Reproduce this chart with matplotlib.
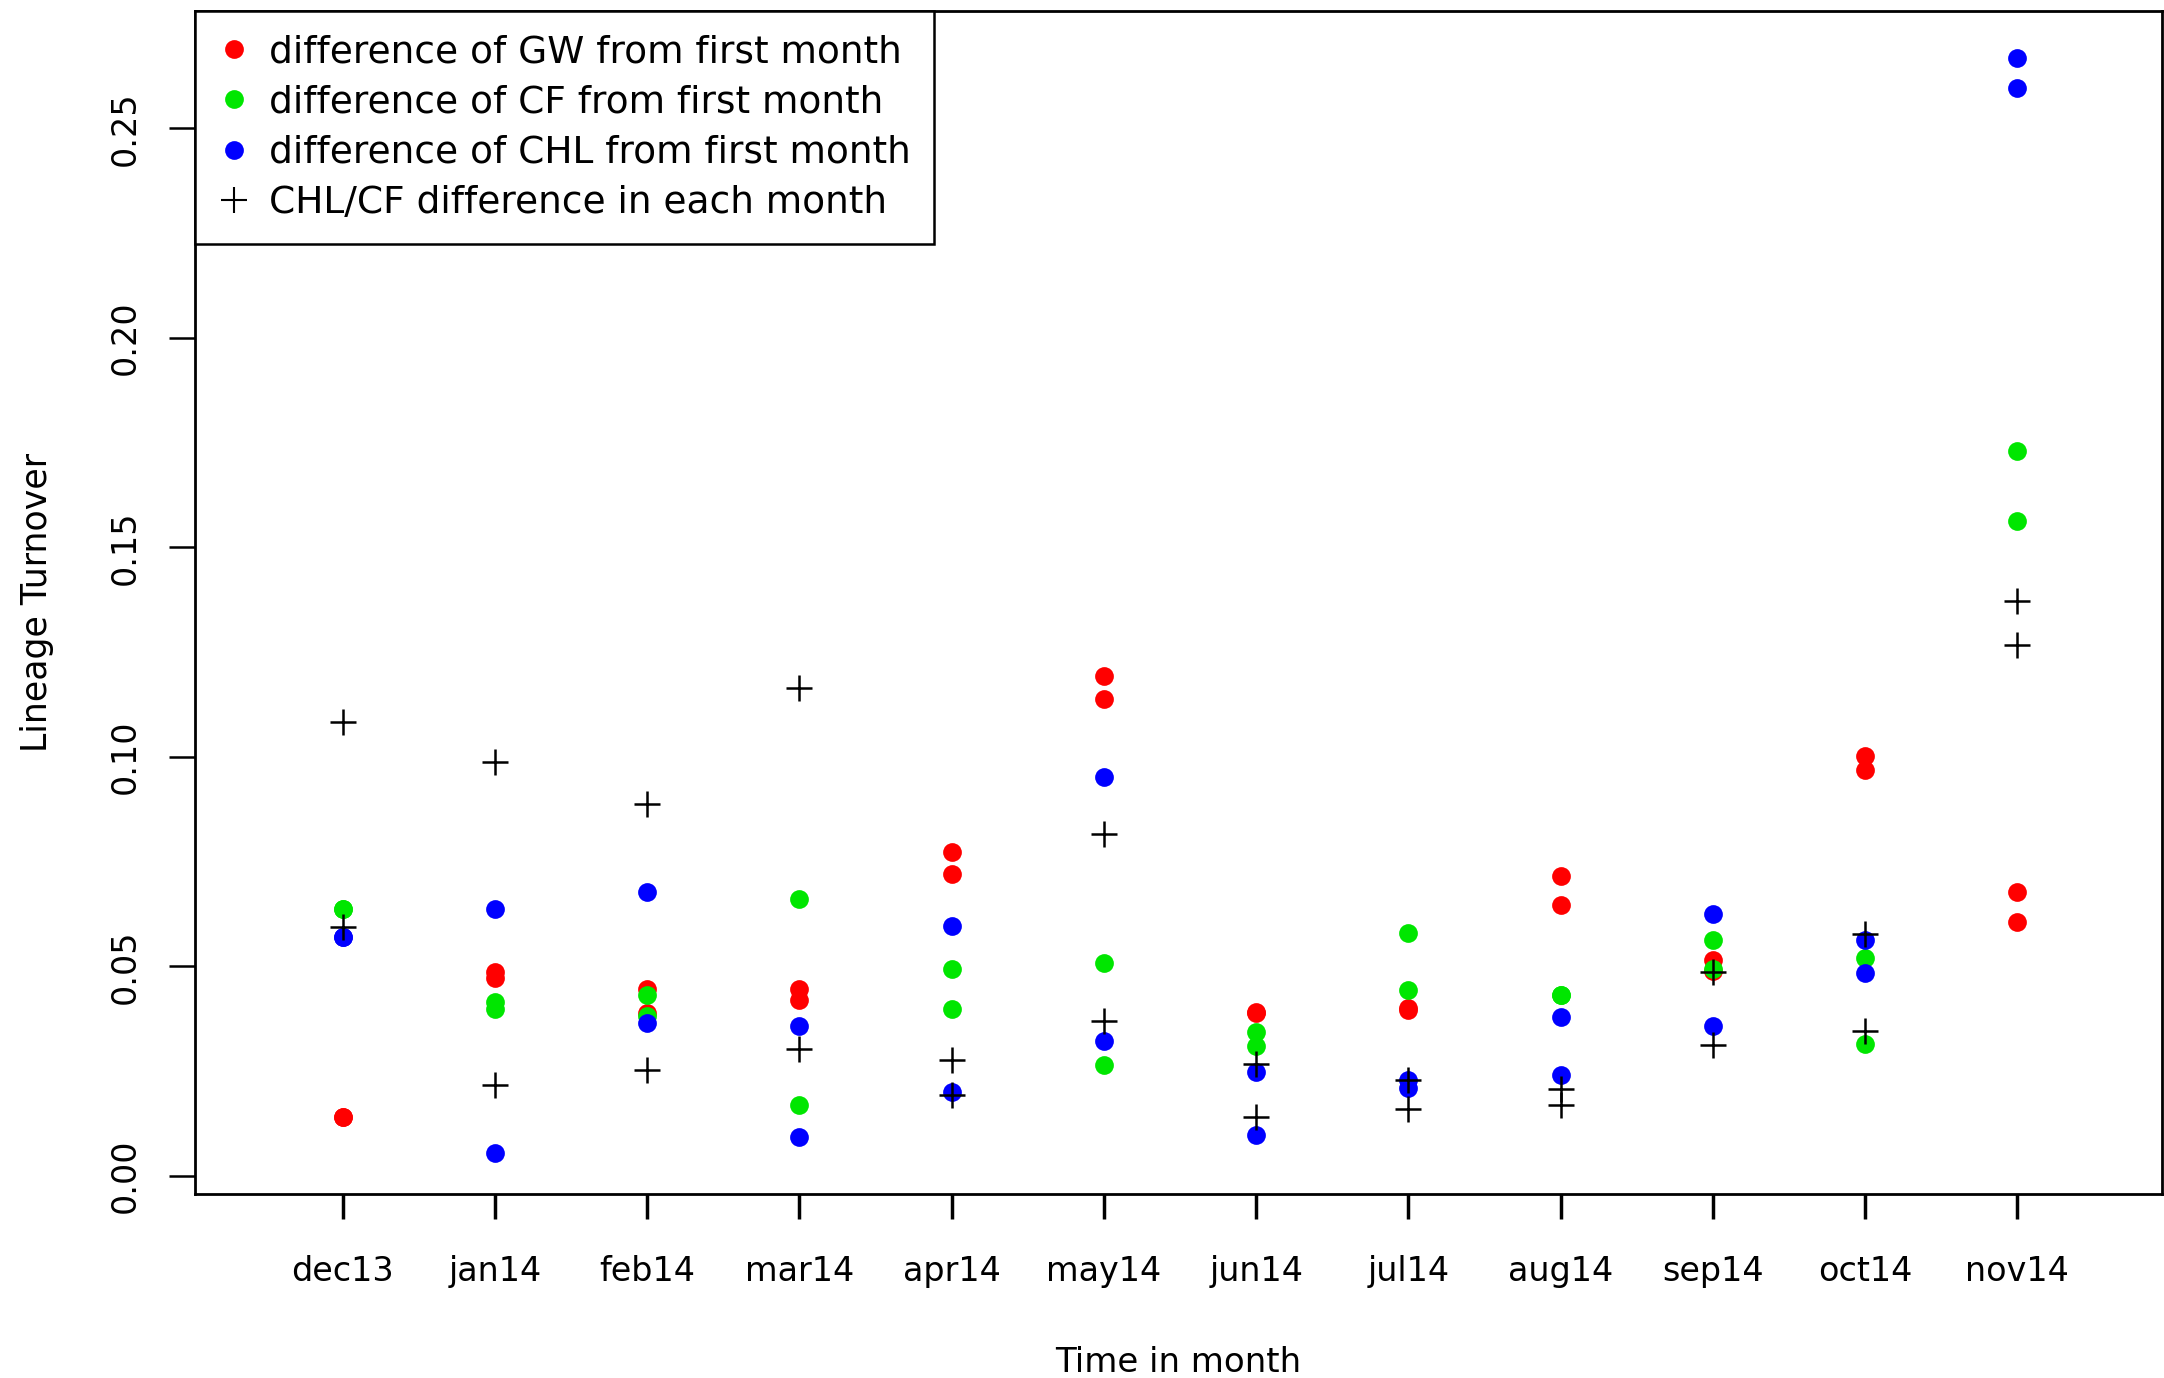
import matplotlib
matplotlib.use("Agg")
import matplotlib.pyplot as plt
from matplotlib.lines import Line2D

plt.rcParams['font.family'] = ['DejaVu Sans']

months = ["dec13", "jan14", "feb14", "mar14", "apr14", "may14",
          "jun14", "jul14", "aug14", "sep14", "oct14", "nov14"]

gw = [(0.0141, 0.0141), (0.0488, 0.0472), (0.0447, 0.0390), (0.0447, 0.0420),
      (0.0773, 0.0721), (0.1192, 0.1139), (0.0392, 0.0388), (0.0400, 0.0395),
      (0.0717, 0.0646), (0.0516, 0.0490), (0.1002, 0.0968), (0.0678, 0.0605)]
cf = [(0.0636, 0.0636), (0.0415, 0.0399), (0.0433, 0.0382), (0.0662, 0.0170),
      (0.0495, 0.0399), (0.0508, 0.0264), (0.0344, 0.0310), (0.0579, 0.0444),
      (0.0431, 0.0431), (0.0563, 0.0493), (0.0520, 0.0315), (0.1730, 0.1563)]
chl = [(0.0570, 0.0570), (0.0638, 0.0054), (0.0678, 0.0365), (0.0358, 0.0094),
       (0.0596, 0.0200), (0.0952, 0.0322), (0.0249, 0.0097), (0.0228, 0.0210),
       (0.0379, 0.0242), (0.0625, 0.0358), (0.0563, 0.0484), (0.2669, 0.2596)]
chlcf = [(0.1084, 0.0595), (0.0988, 0.0216), (0.0887, 0.0252), (0.1164, 0.0304),
         (0.0278, 0.0194), (0.0817, 0.0369), (0.0267, 0.0141), (0.0228, 0.0159),
         (0.0207, 0.0170), (0.0488, 0.0313), (0.0577, 0.0347), (0.1372, 0.1266)]

labels = ["difference of GW from first month",
          "difference of CF from first month",
          "difference of CHL from first month",
          "CHL/CF difference in each month"]
colors = ["#FF0000", "#00E600", "#0000FF"]
yticks = [0.00, 0.05, 0.10, 0.15, 0.20, 0.25]
ytick_labels = ["0.00", "0.05", "0.10", "0.15", "0.20", "0.25"]

fig = plt.figure(figsize=(21.64, 13.78), dpi=100)
ax = fig.add_axes([0.0901, 0.1335, 0.909, 0.8585])

def pts(series):
    xs, ys = [], []
    for i, pair in enumerate(series):
        for v in pair:
            xs.append(i + 1)
            ys.append(v)
    return xs, ys

for series, col in zip([gw, cf, chl], colors):
    xs, ys = pts(series)
    ax.plot(xs, ys, linestyle='none', marker='o', markersize=13.5,
            markerfacecolor=col, markeredgecolor=col, markeredgewidth=0)
xs, ys = pts(chlcf)
ax.plot(xs, ys, linestyle='none', marker='+', markersize=19,
        color='black', markeredgewidth=1.8)

ax.set_xlim(0.03, 12.95)
ax.set_ylim(-0.0043, 0.278)
ax.set_xticks(range(1, 13))
ax.set_xticklabels(months, fontsize=24)
ax.set_yticks(yticks)
ax.set_yticklabels(ytick_labels, fontsize=24, rotation=90, va='center')
ax.tick_params(axis='x', length=18, width=2.5, pad=26, color='black')
ax.tick_params(axis='y', length=19, width=1.8, pad=19, color='black')
for sp in ax.spines.values():
    sp.set_linewidth(2)
    sp.set_color('black')

ax.set_xlabel("Time in month", fontsize=24.5, labelpad=42)
ax.set_ylabel("Lineage Turnover", fontsize=25, labelpad=40)

handles = [Line2D([], [], linestyle='none', marker='o', markersize=13.5,
                  markerfacecolor=c, markeredgecolor=c, markeredgewidth=0)
           for c in colors]
handles.append(Line2D([], [], linestyle='none', marker='+', markersize=19,
                      color='black', markeredgewidth=1.5))
leg = ax.legend(handles, labels, loc='upper left', fontsize=27,
                frameon=True, fancybox=False, borderaxespad=0,
                handlelength=0.85, handletextpad=0.5, labelspacing=0.38,
                borderpad=0.62)
leg.get_frame().set_edgecolor('black')
leg.get_frame().set_linewidth(1.8)
leg.get_frame().set_alpha(1)

fig.savefig("out.png", dpi=100)
